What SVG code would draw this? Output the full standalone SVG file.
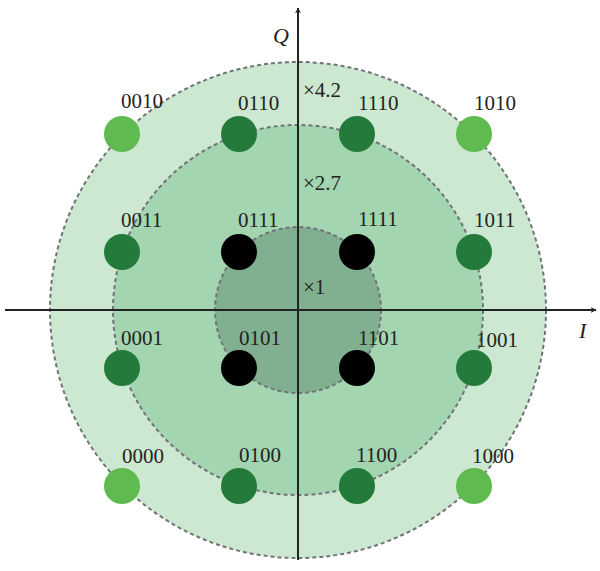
<svg xmlns="http://www.w3.org/2000/svg" width="600" height="571" viewBox="0 0 600 571">
<defs>
<style>
.ring{stroke:#6f7478;stroke-width:2;stroke-dasharray:4,3}
.lbl{font-family:"Liberation Serif",serif;font-size:21px;fill:#222}
.ax{font-family:"Liberation Serif",serif;font-size:22px;font-style:italic;fill:#222}
.lite{fill:#5fbb4f}
.dark{fill:#247a3a}
.blk{fill:#000}
.axis{stroke:#222;stroke-width:2;fill:none}
</style>
<marker id="arr" viewBox="0 0 10 10" refX="9" refY="5" markerWidth="6" markerHeight="6" orient="auto" markerUnits="userSpaceOnUse">
<path d="M0,0 L10,5 L0,10 L3,5 Z" fill="#222"/>
</marker>
</defs>
<rect width="600" height="571" fill="#fff"/>
<g id="rings">
<circle id="ring-outer" class="ring" cx="298" cy="310" r="248" fill="#cde8d0"/>
<circle id="ring-middle" class="ring" cx="298" cy="310" r="185" fill="#a3d5b0"/>
<circle id="ring-inner" class="ring" cx="298" cy="310" r="83" fill="#80b090"/>
</g>
<g id="connectors">
<line class="axis" x1="5" y1="310" x2="596" y2="310" marker-end="url(#arr)"/>
<line class="axis" x1="298" y1="560" x2="298" y2="8" marker-end="url(#arr)"/>
</g>
<g id="axis-labels">
<text class="ax" x="273" y="43">Q</text>
<text class="ax" x="579" y="338">I</text>
<text class="lbl" x="303" y="97">×4.2</text>
<text class="lbl" x="303" y="190">×2.7</text>
<text class="lbl" x="303" y="294">×1</text>
</g>
<g id="n0010"><circle class="lite" cx="122" cy="134" r="18"/><text class="lbl" x="121" y="108">0010</text></g>
<g id="n0110"><circle class="dark" cx="239" cy="134" r="18"/><text class="lbl" x="238" y="110">0110</text></g>
<g id="n1110"><circle class="dark" cx="357" cy="134" r="18"/><text class="lbl" x="358" y="110">1110</text></g>
<g id="n1010"><circle class="lite" cx="474" cy="134" r="18"/><text class="lbl" x="474" y="110">1010</text></g>
<g id="n0011"><circle class="dark" cx="122" cy="252" r="18"/><text class="lbl" x="121" y="227">0011</text></g>
<g id="n0111"><circle class="blk" cx="239" cy="252" r="18"/><text class="lbl" x="238" y="227">0111</text></g>
<g id="n1111"><circle class="blk" cx="357" cy="252" r="18"/><text class="lbl" x="358" y="226">1111</text></g>
<g id="n1011"><circle class="dark" cx="474" cy="252" r="18"/><text class="lbl" x="474" y="227">1011</text></g>
<g id="n0001"><circle class="dark" cx="122" cy="368" r="18"/><text class="lbl" x="121" y="345">0001</text></g>
<g id="n0101"><circle class="blk" cx="239" cy="368" r="18"/><text class="lbl" x="239" y="345">0101</text></g>
<g id="n1101"><circle class="blk" cx="357" cy="368" r="18"/><text class="lbl" x="358" y="345">1101</text></g>
<g id="n1001"><circle class="dark" cx="474" cy="368" r="18"/><text class="lbl" x="476" y="347">1001</text></g>
<g id="n0000"><circle class="lite" cx="122" cy="486" r="18"/><text class="lbl" x="122" y="463">0000</text></g>
<g id="n0100"><circle class="dark" cx="239" cy="486" r="18"/><text class="lbl" x="239" y="462">0100</text></g>
<g id="n1100"><circle class="dark" cx="357" cy="486" r="18"/><text class="lbl" x="356" y="462">1100</text></g>
<g id="n1000"><circle class="lite" cx="474" cy="486" r="18"/><text class="lbl" x="472" y="463">1000</text></g>
</svg>
